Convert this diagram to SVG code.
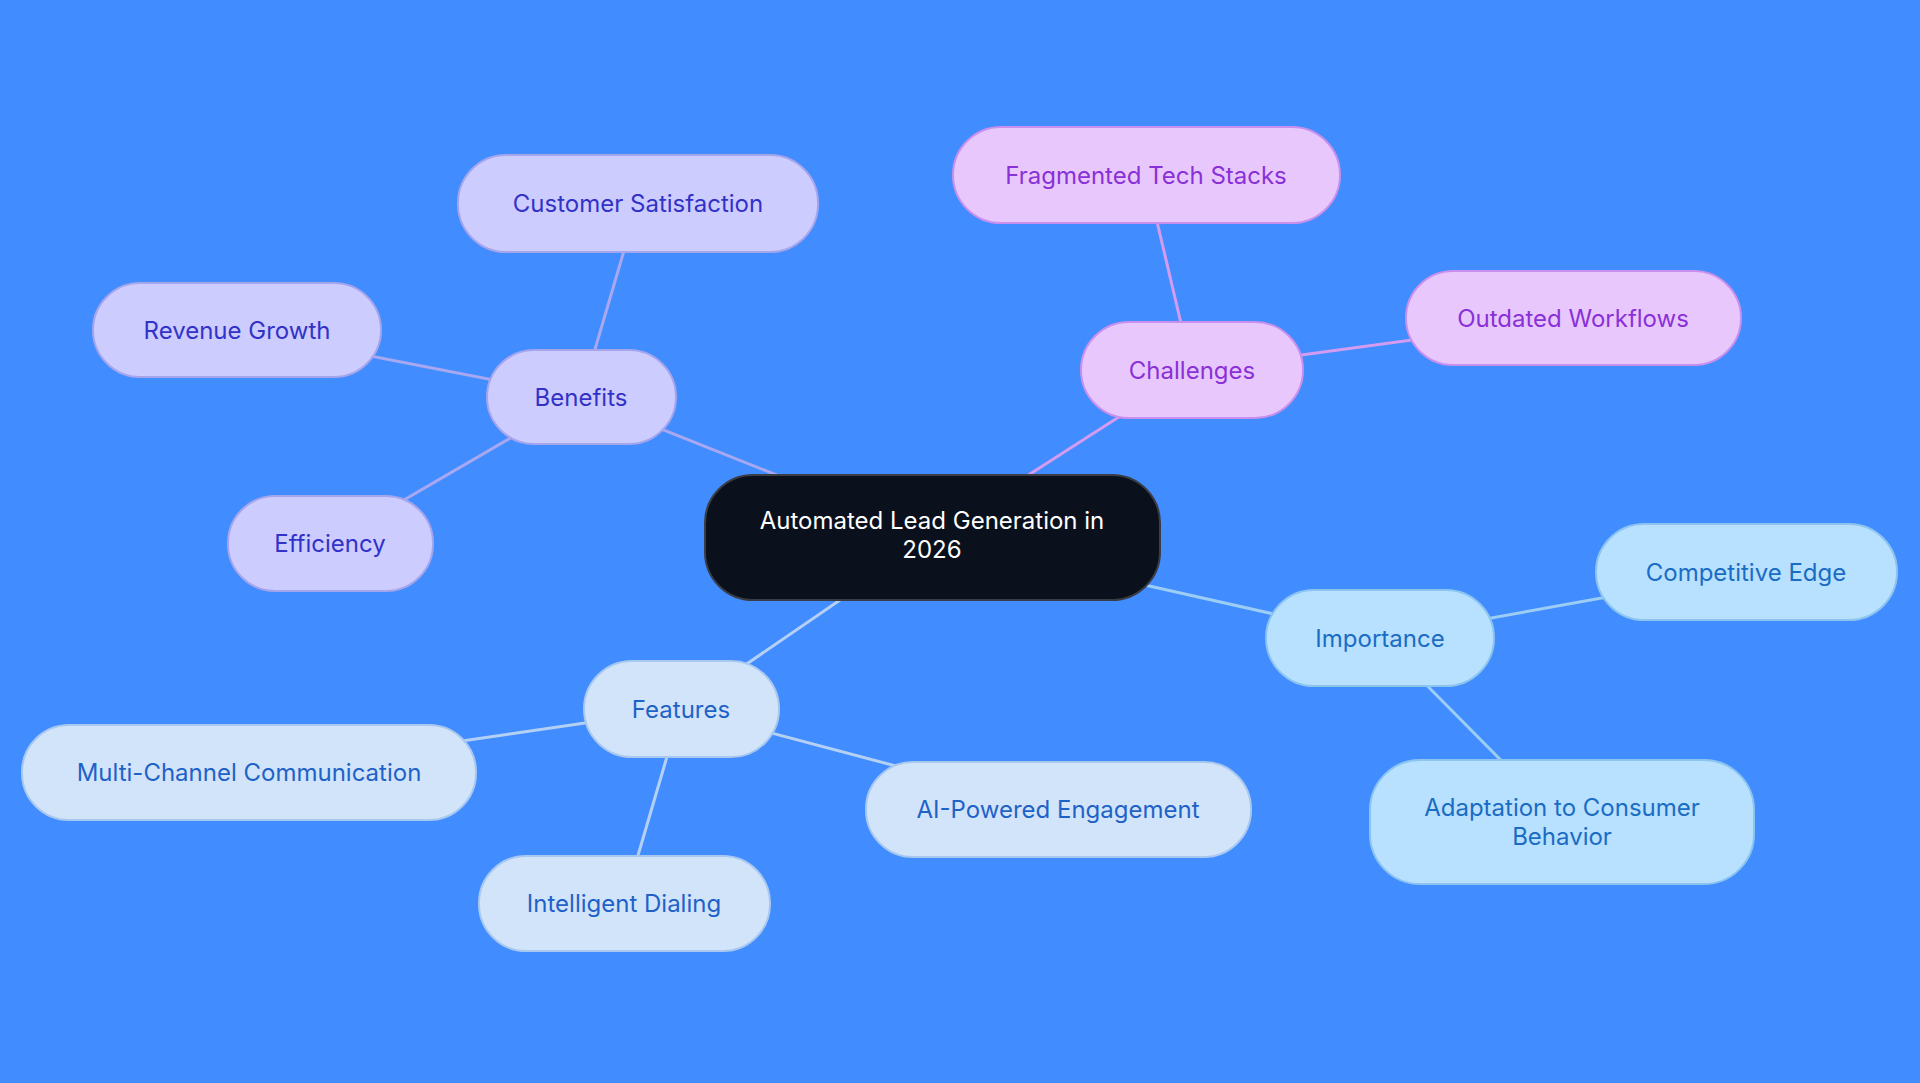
<svg xmlns="http://www.w3.org/2000/svg" width="1920" height="1083" viewBox="0 0 1920 1083">
<style>
text{font-family:Inter,"Open Sans","Liberation Sans",sans-serif;font-size:24px;text-anchor:middle;dominant-baseline:central}
.b rect{fill:#ccccff;stroke:#a5a5ec;stroke-width:2}.b text{fill:#3232c8}
.c rect{fill:#e8c8fc;stroke:#c890ec;stroke-width:2}.c text{fill:#8a30d8}
.i rect{fill:#b8e0ff;stroke:#8cc4f0;stroke-width:2}.i text{fill:#1a6cc4}
.f rect{fill:#d2e4fa;stroke:#a8c8f0;stroke-width:2}.f text{fill:#1e62c8}
#edges line{stroke-width:3}
</style>
<rect width="1920" height="1083" fill="#418cff"/>
<g id="edges">
<line x1="932" y1="537" x2="581" y2="397" stroke="#a8a8f0"/>
<line x1="581" y1="397" x2="638" y2="203" stroke="#a8a8f0"/>
<line x1="581" y1="397" x2="237" y2="330" stroke="#a8a8f0"/>
<line x1="581" y1="397" x2="330" y2="543" stroke="#a8a8f0"/>
<line x1="932" y1="537" x2="1192" y2="370" stroke="#d49cf0"/>
<line x1="1192" y1="370" x2="1146" y2="175" stroke="#d49cf0"/>
<line x1="1192" y1="370" x2="1573" y2="318" stroke="#d49cf0"/>
<line x1="932" y1="537" x2="1380" y2="638" stroke="#9ccdf5"/>
<line x1="1380" y1="638" x2="1746" y2="572" stroke="#9ccdf5"/>
<line x1="1380" y1="638" x2="1562" y2="822" stroke="#9ccdf5"/>
<line x1="932" y1="537" x2="681" y2="709" stroke="#b4d0f5"/>
<line x1="681" y1="709" x2="249" y2="772" stroke="#b4d0f5"/>
<line x1="681" y1="709" x2="1058" y2="809" stroke="#b4d0f5"/>
<line x1="681" y1="709" x2="624" y2="903" stroke="#b4d0f5"/>
</g>
<g id="center"><rect x="705" y="475" width="455" height="125" rx="48" fill="#0b111c" stroke="#3a3d44" stroke-width="2"/><text x="932" y="520" fill="#fff">Automated Lead Generation in</text><text x="932" y="549" fill="#fff">2026</text></g>
<g id="benefits" class="b"><rect x="487" y="350" width="189" height="94" rx="47"/><text x="581" y="397">Benefits</text></g>
<g id="customer" class="b"><rect x="458" y="155" width="360" height="97" rx="48"/><text x="638" y="203">Customer Satisfaction</text></g>
<g id="revenue" class="b"><rect x="93" y="283" width="288" height="94" rx="47"/><text x="237" y="330">Revenue Growth</text></g>
<g id="efficiency" class="b"><rect x="228" y="496" width="205" height="95" rx="47"/><text x="330" y="543">Efficiency</text></g>
<g id="challenges" class="c"><rect x="1081" y="322" width="222" height="96" rx="48"/><text x="1192" y="370">Challenges</text></g>
<g id="fragmented" class="c"><rect x="953" y="127" width="387" height="96" rx="48"/><text x="1146" y="175">Fragmented Tech Stacks</text></g>
<g id="outdated" class="c"><rect x="1406" y="271" width="335" height="94" rx="47"/><text x="1573" y="318">Outdated Workflows</text></g>
<g id="importance" class="i"><rect x="1266" y="590" width="228" height="96" rx="48"/><text x="1380" y="638">Importance</text></g>
<g id="competitive" class="i"><rect x="1596" y="524" width="301" height="96" rx="48"/><text x="1746" y="572">Competitive Edge</text></g>
<g id="adaptation" class="i"><rect x="1370" y="760" width="384" height="124" rx="50"/><text x="1562" y="807">Adaptation to Consumer</text><text x="1562" y="836">Behavior</text></g>
<g id="features" class="f"><rect x="584" y="661" width="195" height="96" rx="48"/><text x="681" y="709">Features</text></g>
<g id="multichannel" class="f"><rect x="22" y="725" width="454" height="95" rx="47"/><text x="249" y="772">Multi-Channel Communication</text></g>
<g id="ai" class="f"><rect x="866" y="762" width="385" height="95" rx="47"/><text x="1058" y="809">AI-Powered Engagement</text></g>
<g id="dialing" class="f"><rect x="479" y="856" width="291" height="95" rx="47"/><text x="624" y="903">Intelligent Dialing</text></g>
</svg>
